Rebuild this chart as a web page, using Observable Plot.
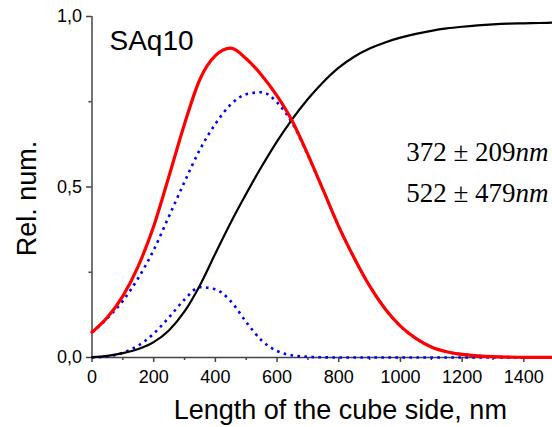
<!DOCTYPE html>
<html><head><meta charset="utf-8">
<script src="https://cdn.jsdelivr.net/npm/d3@7"></script>
<script src="https://cdn.jsdelivr.net/npm/@observablehq/plot@0.6"></script>
<style>body{margin:0;background:#fff;overflow:hidden;}</style>
</head><body><div id="chart"></div>
<script>
// Length of the cube side, nm
const sizes = [0,50,100,150,200,250,300,350,400,450,500,550,600,650,700,750,800,850,900,950,1000,1050,1100,1150,1200,1250,1300,1350,1400,1450,1500];
// red: total fit
const totalFit = [0.074,0.118,0.180,0.268,0.385,0.533,0.685,0.816,0.885,0.907,0.876,0.828,0.767,0.692,0.595,0.490,0.384,0.292,0.210,0.143,0.092,0.056,0.031,0.017,0.009,0.005,0.0025,0.0012,0.0006,0.0003,0.0001];
// blue dotted: first peak (372 nm)
const peak1 = [0.0,0.003,0.014,0.035,0.070,0.118,0.170,0.206,0.200,0.165,0.104,0.050,0.019,0.006,0.002,0.0005,0,0,0,0,0,0,0,0,0,0,0,0,0,0,0];
// blue dotted: second peak (522 nm)
const peak2 = [0.074,0.115,0.166,0.233,0.315,0.415,0.515,0.610,0.685,0.742,0.772,0.778,0.748,0.686,0.593,0.490,0.384,0.292,0.210,0.143,0.092,0.056,0.031,0.017,0.009,0.005,0.0025,0.0012,0.0006,0.0003,0.0001];
// black: cumulative
const cumulative = [0.001,0.005,0.013,0.025,0.045,0.080,0.135,0.212,0.305,0.396,0.480,0.560,0.634,0.700,0.758,0.808,0.850,0.882,0.906,0.924,0.938,0.949,0.958,0.965,0.970,0.974,0.977,0.979,0.980,0.981,0.982];

const xTicks = [0,200,400,600,800,1000,1200,1400];
const xMinorTicks = [100,300,500,700,900,1100,1300];
const yTicks = [0,0.5,1];
const yMinorTicks = [0.25,0.75];
const sampleName = "SAq10";
const modes = [372, 522];
const spreads = [209, 479];
const xLabel = "Length of the cube side, nm";
const yLabel = "Rel. num.";

const toRows = (arr) => sizes.map((x, i) => ({x, v: arr[i]}));
const axisColor = "#444";
const sans = "Liberation Sans, Arial, sans-serif";
const serif = "Liberation Serif, Times New Roman, serif";
const lineDy = [144.7, 185.7];

const annotationMarks = modes.flatMap((m, i) => [
  Plot.text([`${m} ± ${spreads[i]}`], {frameAnchor: "top-right", dx: -37, dy: lineDy[i], textAnchor: "end", lineAnchor: "bottom", fontSize: 27, fontFamily: serif, fill: "#000"}),
  Plot.text(["nm"], {frameAnchor: "top-right", dx: -37, dy: lineDy[i], textAnchor: "start", lineAnchor: "bottom", fontSize: 27, fontFamily: serif, fontStyle: "italic", fill: "#000"})
]);

const chart = Plot.plot({
  width: 552,
  height: 427,
  marginLeft: 91.5,
  marginRight: 0,
  marginTop: 16,
  marginBottom: 70,
  style: {fontFamily: sans, fontSize: "18px", color: "#000", background: "#fff", overflow: "hidden"},
  x: {domain: [0, 1493]},
  y: {domain: [0, 1]},
  marks: [
    Plot.axisX({ticks: xMinorTicks, tickSize: 3, tickFormat: () => "", stroke: axisColor, strokeWidth: 1.5, label: null}),
    Plot.axisX({ticks: xTicks, tickSize: 5, tickPadding: 8, tickFormat: d => String(d), stroke: axisColor, strokeWidth: 1.5, fontSize: 18, fill: "#000", label: null}),
    Plot.axisY({ticks: yMinorTicks, tickSize: 3, tickFormat: () => "", stroke: axisColor, strokeWidth: 1.5, label: null}),
    Plot.axisY({ticks: yTicks, tickSize: 5.5, tickPadding: 4.5, tickFormat: d => d.toFixed(1).replace(".", ","), stroke: axisColor, strokeWidth: 1.5, fontSize: 18, fill: "#000", label: null}),
    Plot.ruleY([0], {stroke: axisColor, strokeWidth: 1.5}),
    Plot.ruleX([0], {y1: 0, y2: 1, stroke: axisColor, strokeWidth: 1.5}),
    Plot.line(toRows(peak2), {x: "x", y: "v", stroke: "#0000ff", strokeWidth: 2.6, strokeDasharray: "2.6,4.4", strokeLinecap: "butt", curve: "monotone-x"}),
    Plot.line(toRows(peak1), {x: "x", y: "v", stroke: "#0000ff", strokeWidth: 2.6, strokeDasharray: "2.6,4.4", strokeLinecap: "butt", curve: "monotone-x"}),
    Plot.line(toRows(cumulative), {x: "x", y: "v", stroke: "#000", strokeWidth: 2.2, curve: "monotone-x"}),
    Plot.line(toRows(totalFit), {x: "x", y: "v", stroke: "#ff0000", strokeWidth: 3.2, curve: "monotone-x"}),
    Plot.text([sampleName], {frameAnchor: "top-left", dx: 17.5, dy: 33, textAnchor: "start", lineAnchor: "bottom", fontSize: 28, fontFamily: sans, fill: "#000"}),
    Plot.text([xLabel], {frameAnchor: "bottom", dx: 18, dy: 61, textAnchor: "middle", lineAnchor: "bottom", fontSize: 27, fontFamily: sans, fill: "#000"}),
    Plot.text([yLabel], {frameAnchor: "left", dx: -56.5, dy: 11.5, rotate: -90, textAnchor: "middle", lineAnchor: "bottom", fontSize: 27, fontFamily: sans, fill: "#000"}),
    ...annotationMarks
  ]
});
document.getElementById("chart").appendChild(chart);
</script>
</body></html>
